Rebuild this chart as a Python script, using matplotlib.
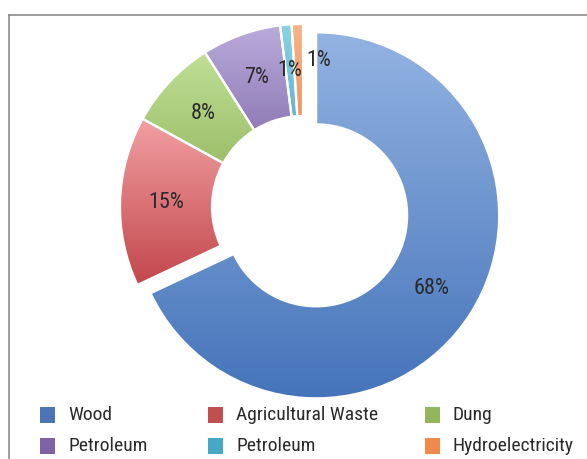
import numpy as np
import matplotlib
matplotlib.use("Agg")
import matplotlib.pyplot as plt
from matplotlib import font_manager
from matplotlib.colors import to_rgb
from matplotlib.lines import Line2D
from matplotlib.patches import Rectangle

labels = ["Wood", "Agricultural Waste", "Dung", "Petroleum", "Petroleum", "Hydroelectricity"]
shares = [68, 15, 8, 7, 1, 1]
explode_frac = [0.085, 0, 0, 0, 0, 0]
base_colors = ["#4a76b8", "#c0504d", "#93b65c", "#7c64a4", "#46a8c4", "#f08a4b"]
# light (top) / dark (bottom) ends of the gradient fill of each slice
top_colors = ["#93b3e2", "#f2a0a3", "#bfe095", "#b9abda", "#8ad2e6", "#f8b48a"]
bottom_colors = ["#4574ba", "#c2474c", "#8fb25a", "#735a9e", "#3c9dba", "#e9773a"]

avail = {f.name for f in font_manager.fontManager.ttflist}
font = next((f for f in ["Liberation Sans Narrow", "Roboto Condensed", "Roboto"] if f in avail), "DejaVu Sans")

W, H = 587, 459
fig = plt.figure(figsize=(W / 100, H / 100), dpi=100)
ax = fig.add_axes([0, 0, 1, 1])

R = 183
ring = 92
# pie() takes explode in data units here, so scale by the radius
wedges, texts, autotexts = ax.pie(
    shares,
    explode=[f * R for f in explode_frac],
    startangle=90,
    counterclock=False,
    radius=R,
    center=(303, H - 207),
    autopct="%d%%",
    pctdistance=0.75,
    wedgeprops=dict(width=ring, edgecolor="white", linewidth=1.6),
    textprops=dict(fontsize=16, color="#2a2a2a", family=font),
)

for w, c0, c1 in zip(wedges, top_colors, bottom_colors):
    verts = w.get_path().vertices
    x0, y0 = verts.min(axis=0)
    x1, y1 = verts.max(axis=0)
    t = np.linspace(0, 1, 256)[:, None]
    grad = (1 - t) * np.array(to_rgb(c1)) + t * np.array(to_rgb(c0))
    im = ax.imshow(grad[:, None, :], extent=[x0, x1, y0, y1], origin="lower",
                   aspect="auto", zorder=2, interpolation="bilinear")
    im.set_clip_path(w)
    w.set_facecolor("none")
    w.set_zorder(3)

for t in autotexts:
    t.set_zorder(4)
# the last small label is nudged off its neighbour
x, y = autotexts[-1].get_position()
autotexts[-1].set_position((x + 20, y + 9))

ax.set_xlim(0, W)
ax.set_ylim(0, H)
ax.set_aspect("equal")
ax.axis("off")

# frame around the chart area
fig.add_artist(Line2D([9 / W, 1.01], [1 - 15 / H, 1 - 15 / H], color="#8c8c8c", lw=1.2,
                      transform=fig.transFigure))
fig.add_artist(Line2D([9 / W, 9 / W], [-0.01, 1 - 15 / H], color="#8c8c8c", lw=1.2,
                      transform=fig.transFigure))

# legend, 3 columns x 2 rows
col_x = [40, 208, 425]
row_y = [415, 446]
for i, (lab, col) in enumerate(zip(labels, base_colors)):
    cx = col_x[i % 3]
    cy = row_y[i // 3]
    fig.add_artist(Rectangle((cx / W, 1 - (cy + 8) / H), 15 / W, 16 / H,
                             facecolor=col, edgecolor="none", transform=fig.transFigure))
    fig.text((cx + 28) / W, 1 - cy / H, lab, fontsize=14, color="#2a2a2a",
             family=font, va="center", ha="left")

fig.savefig("out.png", dpi=100)
